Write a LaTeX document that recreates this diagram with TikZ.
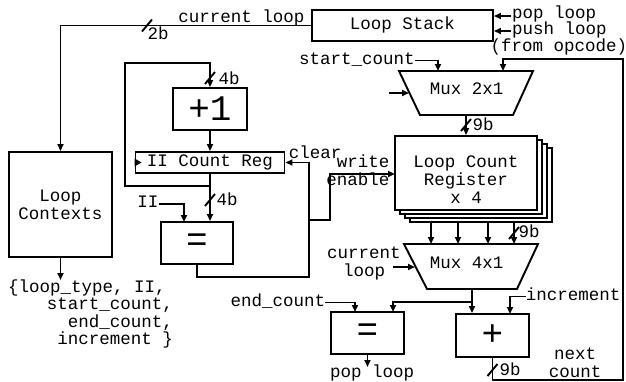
\documentclass[tikz,border=0pt]{standalone}
\usepackage{fontspec}
\newfontfamily\mono{Liberation Mono}
\usetikzlibrary{arrows.meta,calc}
\begin{document}
\begin{tikzpicture}[x=1pt,y=-1pt,
  ln/.style={line width=1.9pt},
  arr/.style={line width=1.9pt,-{Triangle[length=7pt,width=6pt]}},
  box/.style={draw,line width=1.9pt,fill=white,inner sep=0pt},
  txt/.style={font=\mono\fontsize{17.5}{18}\selectfont,inner sep=0pt,text height=10pt,text depth=3pt},
  mtxt/.style={font=\mono\fontsize{17.5}{18}\selectfont,inner sep=0pt,align=center},
  big/.style={font=\mono\fontsize{36}{36}\selectfont},
  slash/.pic={\draw[line width=1.9pt] (-5,6) -- (5,-6);}
]
\useasboundingbox (0,0) rectangle (626,381);

% ---- boxes
\node[box,txt,minimum width=181pt,minimum height=31pt] (ls) at (402.5,25.5) {Loop Stack};
\node[box,mtxt,minimum width=103pt,minimum height=105pt] (lc) at (60.5,204.5) {Loop\\Contexts};
\node[box,big,minimum width=74pt,minimum height=42pt] (p1) at (210,109) {+1};
\node[box,txt,minimum width=149pt,minimum height=21pt] (iir) at (210,162.5) {II Count Reg};
\fill ($(iir.west)+(0,-4)$) -- ($(iir.west)+(7,0)$) -- ($(iir.west)+(0,4)$) -- cycle;
\node[box,big,minimum width=72pt,minimum height=42pt] (eq1) at (197,243) {=};

\node[box,minimum width=142pt,minimum height=74pt] (lcr3) at (481,185) {};
\node[box,minimum width=142pt,minimum height=74pt] (lcr2) at (476,181) {};
\node[box,minimum width=142pt,minimum height=74pt] (lcr1) at (471,177) {};
\node[box,minimum width=142pt,minimum height=74pt] (lcr) at (466,173) {};
\node[mtxt] (lcrt) at (466,180) {Loop Count\\Register\\x 4};

\draw[ln,fill=white] (399,71) -- (533,71) -- (513,115) -- (420,115) -- cycle;
\node[txt] (m2) at (466.5,90.5) {Mux 2x1};
\draw[ln,fill=white] (404,244) -- (538,244) -- (517,289) -- (427,289) -- cycle;
\node[txt] (m4) at (466.5,264.5) {Mux 4x1};

\node[box,big,minimum width=73pt,minimum height=42pt] (eq2) at (367.5,333) {=};
\node[box,big,minimum width=73pt,minimum height=43pt] (pl) at (492.5,335.5) {+};

% ---- labels
\node[txt] (tcl) at (241.5,18.5) {current loop};
\node[txt] (t2b) at (158,36) {2b};
\node[txt,anchor=west] (tpop) at (512,15) {pop loop};
\node[txt,anchor=west] (tpush) at (512,31) {push loop};
\node[txt] (tfrom) at (559,47.5) {(from opcode)};
\node[txt] (tsc) at (357,60.5) {start\_count};
\node[txt] (t4b1) at (229,80.5) {4b};
\node[txt] (tclr) at (315,154.5) {clear};
\node[txt] (twr) at (363,164) {write};
\node[txt] (ten) at (358,182) {enable};
\node[txt] (tII) at (148,204) {II};
\node[txt] (t4b2) at (227,201.5) {4b};
\node[txt] (t9b1) at (483,126.5) {9b};
\node[txt] (t9b2) at (529,233.5) {9b};
\node[mtxt] (tcl2) at (364,263) {current\\loop};
\node[txt] (tend) at (278,302.5) {end\_count};
\node[txt] (tinc) at (573,296.5) {increment};
\node[txt,anchor=west] (tpop2) at (330,374) {pop loop};
\node[txt] (t9b3) at (510,371.5) {9b};
\node[mtxt] (tnext) at (575,363) {next\\count};
\node[txt,anchor=west] (tb1) at (8,288.5) {\{loop\_type, II,};
\node[txt,anchor=east] (tb2) at (173,305.5) {start\_count,};
\node[txt,anchor=east] (tb3) at (173,323.5) {end\_count,};
\node[txt,anchor=east] (tb4) at (173,340.5) {increment \}};

% ---- connectors
\draw[arr] (ls.west) -| (lc.north);
\pic at (147,25.5) {slash};
\coordinate (popin) at (511,16);
\draw[arr] (popin) -- (popin -| ls.east);
\coordinate (pushin) at (511,31);
\draw[arr] (pushin) -- (pushin -| ls.east);
\coordinate (lcout) at (60.5,280);
\draw[arr] (lc.south) -- (lcout);

\coordinate (j1) at (210,186);
\coordinate (lb) at (125,186);
\coordinate (lt) at (125,63);
\coordinate (tp) at (210,63);
\draw[arr] (j1) -- (lb) -- (lt) -- (tp) -- (p1.north);
\pic at (210,78) {slash};
\draw[arr] (p1.south) -- (iir.north);
\draw[arr] (iir.south) -- (iir.south |- eq1.north);
\pic at (210,200) {slash};
\coordinate (iiin) at (184,222);
\draw[arr] (tII.east) -| (iiin);

\coordinate (fb1) at (309,277);
\draw[arr] (eq1.south) |- (fb1) |- (iir.east);
\coordinate (we1) at (309,220);
\coordinate (we2) at (330,220);
\coordinate (lcrin) at (395,174);
\draw[arr] (we1) -- (we2) |- (lcrin);

\coordinate (m2a) at (438,71);
\draw[arr] (tsc.east) -| (m2a);
\coordinate (m2b) at (503,71);
\coordinate (nc1) at (492.5,380);
\coordinate (nc2) at (623,380);
\coordinate (nc3) at (623,59);
\draw[arr] (pl.south) -- (nc1) -- (nc2) -- (nc3) -| (m2b);
\pic at (492.5,370) {slash};
\coordinate (m2l) at (389,93);
\coordinate (m2l2) at (409,93);
\draw[arr] (m2l) -- (m2l2);
\coordinate (m2o) at (466,115);
\draw[arr] (m2o) -- (lcr.north);
\pic at (466,125) {slash};

\foreach \k/\x in {a/431,b/458,c/488,d/514}{
  \coordinate (o\k) at (\x,222);
  \coordinate (i\k) at (\x,244);
  \draw[arr] (o\k) -- (i\k);
}
\pic at (514,233) {slash};

\coordinate (m4l) at (393,267);
\coordinate (m4l2) at (415,267);
\draw[arr] (m4l) -- (m4l2);
\coordinate (m4o) at (472,289);
\coordinate (j2) at (472,302);
\draw[arr] (m4o) -- (m4o |- pl.north);
\coordinate (eqin2) at (393,312);
\draw[arr] (j2) -| (eqin2);
\coordinate (eqin3) at (355,312);
\draw[arr] (tend.east) -| (eqin3);
\coordinate (popo) at (367.5,367);
\draw[arr] (eq2.south) -- (popo);
\coordinate (plin) at (510,314);
\draw[arr] (tinc.west) -| (plin);
\end{tikzpicture}
\end{document}
